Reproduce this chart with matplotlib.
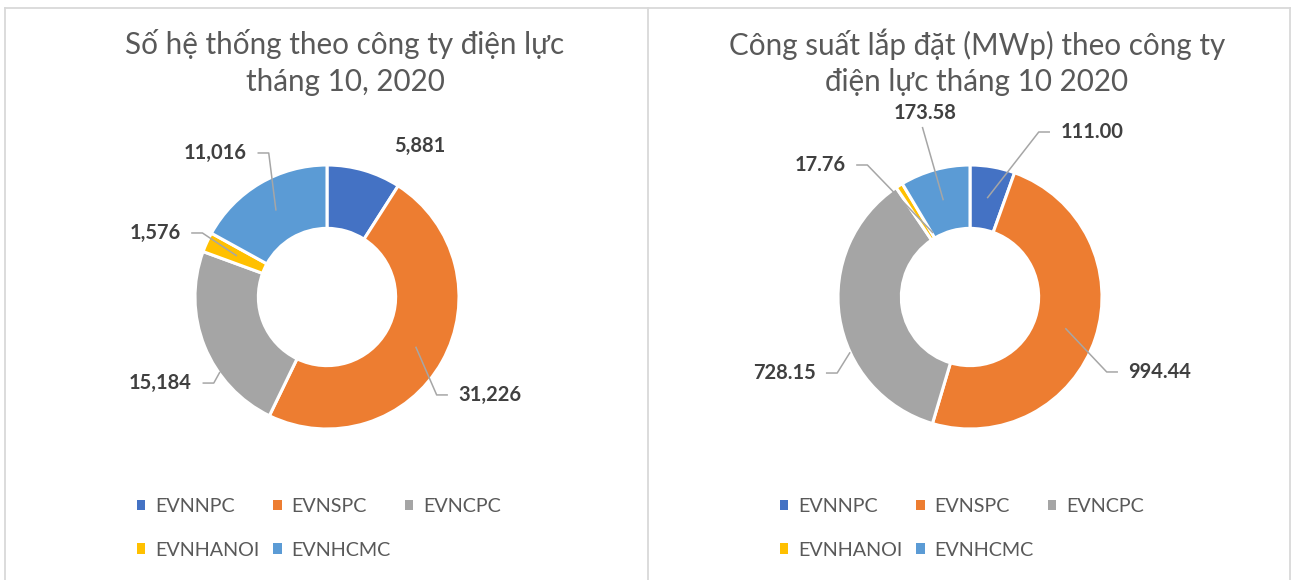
import matplotlib
matplotlib.use('Agg')
import matplotlib.pyplot as plt
from matplotlib.patches import Patch
from matplotlib.lines import Line2D
import numpy as np

# ---------------- data ----------------
categories = ['EVNNPC', 'EVNSPC', 'EVNCPC', 'EVNHANOI', 'EVNHCMC']
systems = [5881, 31226, 15184, 1576, 11016]
capacity = [111.00, 994.44, 728.15, 17.76, 173.58]
system_labels = ['5,881', '31,226', '15,184', '1,576', '11,016']
capacity_labels = ['111.00', '994.44', '728.15', '17.76', '173.58']
title_left = 'Số hệ thống theo công ty điện lực\ntháng 10, 2020'
title_right = 'Công suất lắp đặt (MWp) theo công ty\nđiện lực tháng 10 2020'

# ---------------- style ----------------
colors = ['#4472C4', '#ED7D31', '#A5A5A5', '#FFC000', '#5B9BD5']
FONT = ['Lato', 'Noto Sans', 'DejaVu Sans']
plt.rcParams['font.family'] = FONT

W, H = 1291, 580
PX = 132.0  # pixels per data unit (outer radius = 1)

fig = plt.figure(figsize=(W / 100, H / 100), dpi=100)
fig.patch.set_facecolor('white')

# panel borders
bc = '#D9D9D9'
def fline(x0, y0, x1, y1):
    fig.add_artist(Line2D([x0 / W, x1 / W], [1 - y0 / H, 1 - y1 / H],
                          color=bc, lw=1.3, transform=fig.transFigure))
fline(5, 8, 1291, 8)
fline(5, 8, 5, 580)
fline(648, 8, 648, 580)
fline(1289.5, 8, 1289.5, 580)

# label layout (relative to donut centre, in units of outer radius)
# (x, y, leader side, tip radius, tip angle offset)
layout_left = [
    (0.705, 1.144, None, 0, 0),
    (1.235, -0.742, 'left', 0.77, 0),
    (-1.261, -0.652, 'right', 0.99, 13),
    (-1.303, 0.485, 'right', 0.75, 0),
    (-0.845, 1.091, 'right', 0.76, 0),
]
layout_right = [
    (0.924, 1.250, 'left', 0.76, 0),
    (1.439, -0.568, 'left', 0.76, 0),
    (-1.409, -0.576, 'right', 1.0, 16),
    (-1.136, 1.000, 'right', 0.56, -2.5),
    (-0.341, 1.394, 'below', 0.76, 0),
]


def donut(cx, cy, values, labels, layout, title, tcx):
    hw, hh = 300, 200
    ax = fig.add_axes([(cx - hw) / W, (H - cy - hh) / H, 2 * hw / W, 2 * hh / H])
    wedges, _ = ax.pie(values, colors=colors, startangle=90, counterclock=False,
                       radius=1.0,
                       wedgeprops=dict(width=0.48, edgecolor='white', linewidth=2.2))
    ax.set_xlim(-hw / PX, hw / PX)
    ax.set_ylim(-hh / PX, hh / PX)
    ax.set_aspect('equal')
    ax.axis('off')
    texts = []
    for lab, (lx, ly, side, tr, da) in zip(labels, layout):
        t = ax.text(lx, ly, lab, ha='center', va='center', fontsize=14.5,
                    fontweight='bold', color='#404040')
        texts.append(t)
    fig.canvas.draw()
    r = fig.canvas.get_renderer()
    inv = ax.transData.inverted()
    gap, elb = 0.08, 0.085
    for w, t, (lx, ly, side, tr, da) in zip(wedges, texts, layout):
        if side is None:
            continue
        bb = t.get_window_extent(r)
        (x0, y0), (x1, y1) = inv.transform([[bb.x0, bb.y0], [bb.x1, bb.y1]])
        ang = np.deg2rad((w.theta1 + w.theta2) / 2 + da)
        tip = (tr * np.cos(ang), tr * np.sin(ang))
        if side == 'left':
            p0 = (x0 - gap, ly)
            p1 = (p0[0] - elb, ly)
            pts = [p0, p1, tip]
        elif side == 'right':
            p0 = (x1 + gap, ly)
            p1 = (p0[0] + elb, ly)
            pts = [p0, p1, tip]
        else:
            p0 = (lx - 0.02, y0 - 0.03)
            pts = [p0, tip]
        xs, ys = zip(*pts)
        ax.plot(xs, ys, color='#A6A6A6', lw=1.1, solid_capstyle='butt', zorder=5)
    # title
    fig.text(tcx / W, 1 - 62.5 / H, title, ha='center', va='center', fontsize=21.3,
             color='#595959', linespacing=1.36)
    # legend (row-major order)
    handles = [Patch(facecolor=c, edgecolor='none') for c in colors]
    order = [0, 3, 1, 4, 2]
    leg = ax.legend([handles[i] for i in order], [categories[i] for i in order],
                    ncol=3, loc='upper left', frameon=False,
                    bbox_to_anchor=((cx - 190) / W, 1 - 498 / H),
                    bbox_transform=fig.transFigure,
                    fontsize=14.2, handlelength=0.43, handleheight=0.43,
                    handletextpad=0.5, columnspacing=0.7, labelspacing=1.35,
                    borderpad=0, borderaxespad=0)
    for txt in leg.get_texts():
        txt.set_color('#595959')
    return ax


donut(327, 297, systems, system_labels, layout_left, title_left, 345)
donut(970, 297, capacity, capacity_labels, layout_right, title_right, 977)

fig.savefig('out.png', dpi=100, facecolor='white')
